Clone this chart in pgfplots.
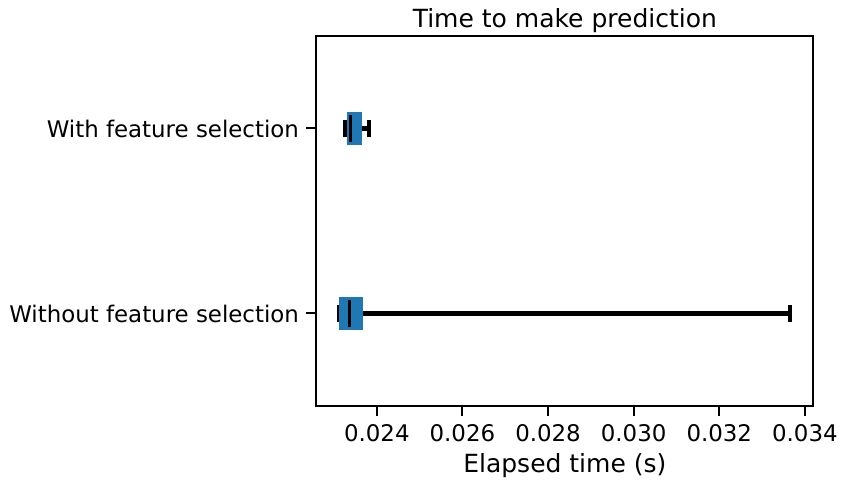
\documentclass[border=0pt]{standalone}
\usepackage{fontspec}
\setmainfont{DejaVu Sans}
\usepackage{pgfplots}
\pgfplotsset{compat=1.18}
\usepgfplotslibrary{statistics}
\definecolor{mplblue}{RGB}{31,119,180}
\begin{document}
\begin{tikzpicture}
\begin{axis}[
  scale only axis,
  width=496.7pt, height=370pt,
  xmin=0.022591, xmax=0.034194,
  ymin=0.5, ymax=2.5,
  xtick={0.024,0.026,0.028,0.030,0.032,0.034},
  ytick={1,2},
  yticklabels={Without feature selection, With feature selection},
  scaled x ticks=false,
  xticklabel style={/pgf/number format/fixed, /pgf/number format/precision=3, /pgf/number format/fixed zerofill, yshift=-4.5pt},
  yticklabel style={xshift=-3.5pt},
  /pgf/number format/assume math mode=true,
  tick label style={font=\fontsize{22.9}{27}\selectfont},
  tick pos=left,
  tick align=outside,
  major tick length=10.5pt,
  every tick/.style={black, line width=2pt},
  axis line style={line width=2pt},
  title={Time to make prediction},
  every axis title/.style={font=\fontsize{25}{30}\selectfont, at={(0.5,1)}, anchor=base, yshift=8pt, inner sep=0pt},
  xlabel={Elapsed time (s)},
  every axis x label/.style={font=\fontsize{25}{30}\selectfont, at={(0.5,0)}, anchor=base, yshift=-67pt, inner sep=0pt},
  boxplot/draw direction=x,
  boxplot/box extend=0.175,
  boxplot/whisker extend=0.09,
  boxplot/draw/box/.code={\fill[mplblue] (boxplot box cs:\pgfplotsboxplotvalue{lower quartile},0) rectangle (boxplot box cs:\pgfplotsboxplotvalue{upper quartile},1);},
  boxplot/draw/lower whisker/.code={%
    \draw[black, line width=4.2pt] (boxplot box cs:\pgfplotsboxplotvalue{lower quartile},0.5) -- (boxplot box cs:\pgfplotsboxplotvalue{lower whisker},0.5);
    \draw[black, line width=4.5pt] (boxplot whisker cs:\pgfplotsboxplotvalue{lower whisker},0) -- (boxplot whisker cs:\pgfplotsboxplotvalue{lower whisker},1);},
  boxplot/draw/upper whisker/.code={%
    \draw[black, line width=4.2pt] (boxplot box cs:\pgfplotsboxplotvalue{upper quartile},0.5) -- (boxplot box cs:\pgfplotsboxplotvalue{upper whisker},0.5);
    \draw[black, line width=4.5pt] (boxplot whisker cs:\pgfplotsboxplotvalue{upper whisker},0) -- (boxplot whisker cs:\pgfplotsboxplotvalue{upper whisker},1);},
  boxplot/draw/median/.code={\draw[black, line width=3pt] (boxplot box cs:\pgfplotsboxplotvalue{median},0.07) -- (boxplot box cs:\pgfplotsboxplotvalue{median},0.93);},
]
\addplot[boxplot prepared={lower whisker=0.023118, lower quartile=0.023120, median=0.023358, upper quartile=0.023647, upper whisker=0.033652, draw position=1}] coordinates {};
\addplot[boxplot prepared={lower whisker=0.023262, lower quartile=0.023297, median=0.023379, upper quartile=0.023631, upper whisker=0.023822, draw position=2}] coordinates {};
\end{axis}
\path ([shift={(-316.5pt,-80pt)}]current axis.south west) rectangle ([shift={(32.8pt,36pt)}]current axis.north east);
\end{tikzpicture}
\end{document}
